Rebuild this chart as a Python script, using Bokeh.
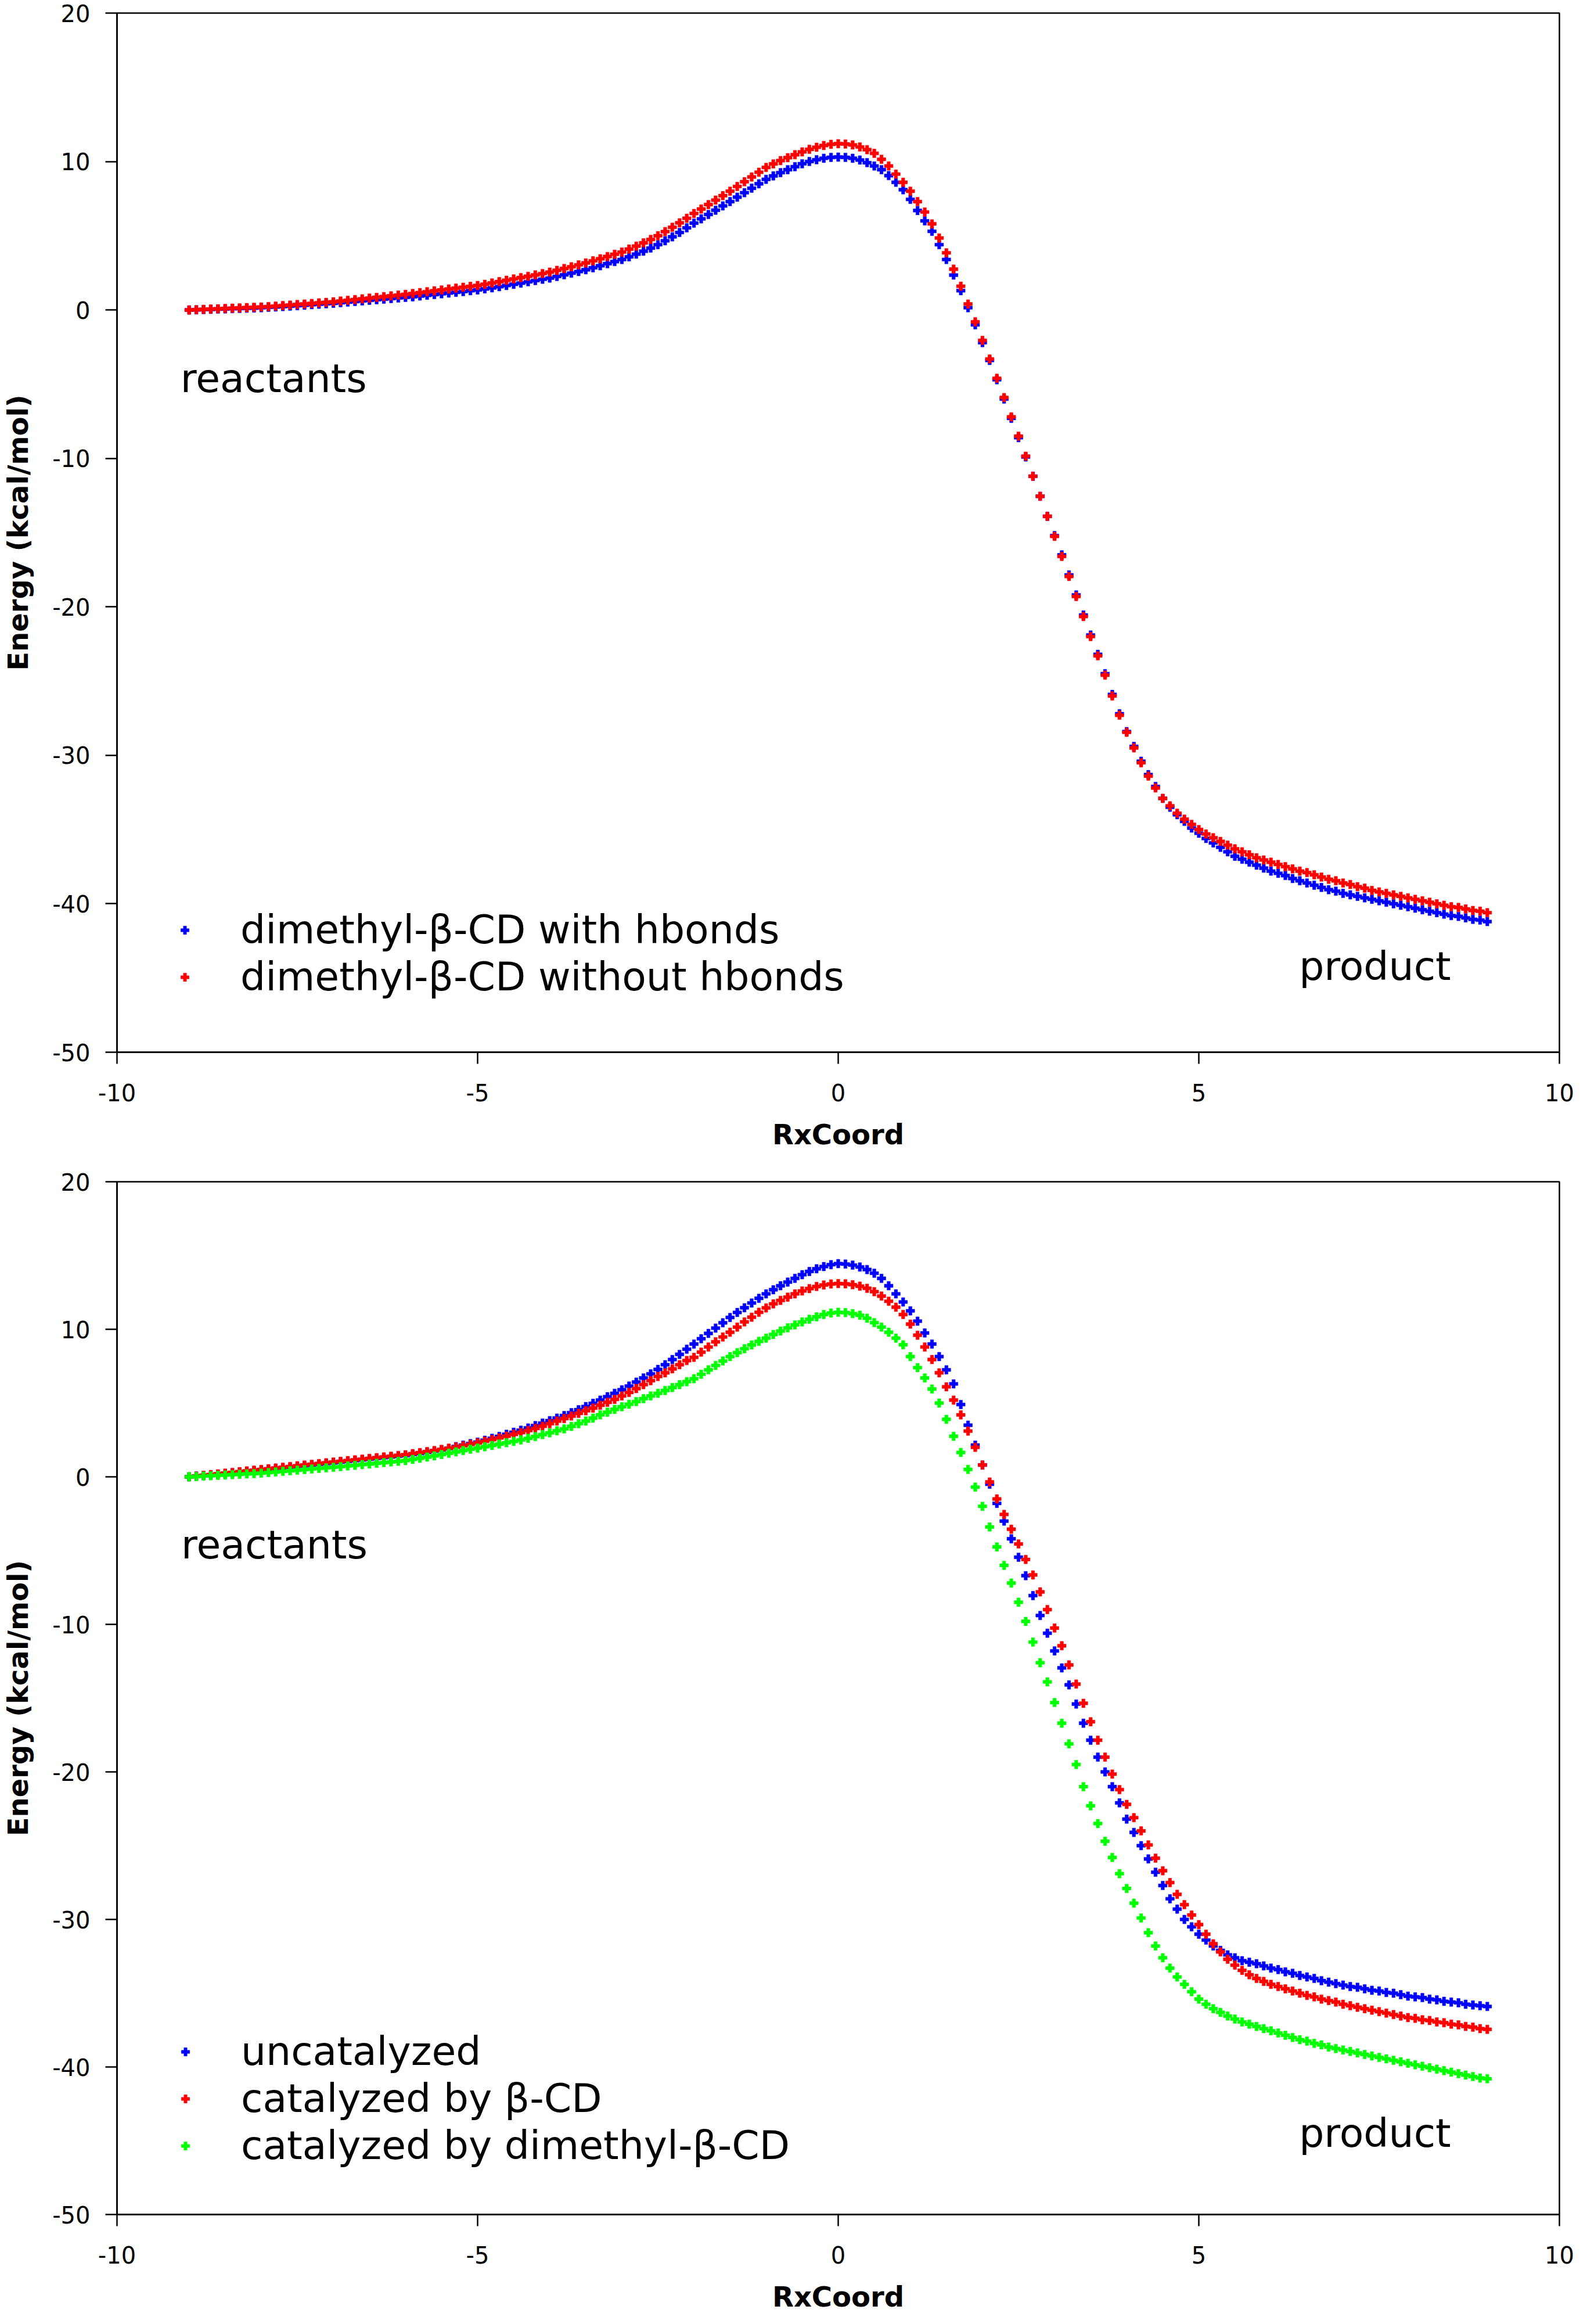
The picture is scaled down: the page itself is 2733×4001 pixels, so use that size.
import numpy as np
from bokeh.plotting import figure
from bokeh.layouts import column
from bokeh.models import Range1d, FixedTicker, Label, Legend, LegendItem, PrintfTickFormatter
from bokeh.embed import file_html
from bokeh.resources import INLINE

# reaction coordinate grid shared by all curves
rx = np.round(np.arange(-9.0, 9.05, 0.1), 1)

# top panel: dimethyl-beta-CD with / without hbonds (kcal/mol)
top_with_hb = [
    0.00, 0.01, 0.03, 0.04, 0.06, 0.07, 0.09, 0.10, 0.12, 0.13,
    0.15, 0.18, 0.20, 0.23, 0.26, 0.29, 0.32, 0.36, 0.39, 0.42,
    0.45, 0.49, 0.53, 0.57, 0.61, 0.65, 0.69, 0.73, 0.77, 0.81,
    0.85, 0.89, 0.94, 0.99, 1.04, 1.09, 1.14, 1.19, 1.24, 1.30,
    1.35, 1.42, 1.49, 1.57, 1.65, 1.73, 1.81, 1.90, 1.98, 2.07,
    2.15, 2.26, 2.37, 2.48, 2.59, 2.71, 2.84, 2.98, 3.12, 3.26,
    3.40, 3.58, 3.76, 3.96, 4.17, 4.40, 4.66, 4.93, 5.22, 5.53,
    5.85, 6.14, 6.43, 6.72, 7.01, 7.30, 7.60, 7.90, 8.20, 8.50,
    8.80, 9.03, 9.25, 9.45, 9.65, 9.85, 10.00, 10.12, 10.22, 10.28,
    10.30, 10.28, 10.22, 10.10, 9.92, 9.70, 9.45, 9.05, 8.60, 8.10,
    7.45, 6.70, 6.00, 5.30, 4.40, 3.40, 2.35, 1.30, 0.15, -1.00,
    -2.20, -3.40, -4.70, -6.00, -7.30, -8.60, -9.90, -11.20, -12.55, -13.90,
    -15.20, -16.50, -17.85, -19.20, -20.55, -21.90, -23.20, -24.50, -25.90, -27.20,
    -28.40, -29.40, -30.40, -31.30, -32.10, -32.90, -33.50, -34.00, -34.45, -34.90,
    -35.25, -35.60, -35.90, -36.20, -36.50, -36.80, -37.00, -37.20, -37.40, -37.60,
    -37.80, -37.95, -38.10, -38.30, -38.45, -38.60, -38.75, -38.90, -39.05, -39.15,
    -39.30, -39.40, -39.50, -39.60, -39.70, -39.80, -39.90, -40.00, -40.10, -40.20,
    -40.30, -40.40, -40.50, -40.60, -40.70, -40.80, -40.85, -40.95, -41.05, -41.10,
    -41.20,
]
top_without_hb = [
    0.00, 0.02, 0.04, 0.06, 0.08, 0.10, 0.12, 0.14, 0.16, 0.18,
    0.20, 0.23, 0.26, 0.30, 0.33, 0.37, 0.40, 0.44, 0.48, 0.51,
    0.55, 0.60, 0.65, 0.70, 0.75, 0.80, 0.85, 0.90, 0.95, 1.00,
    1.05, 1.11, 1.17, 1.23, 1.29, 1.35, 1.41, 1.47, 1.53, 1.59,
    1.65, 1.73, 1.82, 1.91, 2.00, 2.09, 2.18, 2.27, 2.36, 2.45,
    2.55, 2.67, 2.79, 2.91, 3.04, 3.17, 3.31, 3.45, 3.60, 3.75,
    3.90, 4.10, 4.30, 4.52, 4.75, 5.00, 5.28, 5.57, 5.87, 6.18,
    6.50, 6.80, 7.10, 7.40, 7.70, 8.00, 8.32, 8.64, 8.96, 9.28,
    9.60, 9.84, 10.06, 10.26, 10.46, 10.65, 10.82, 10.96, 11.08, 11.16,
    11.20, 11.18, 11.12, 10.98, 10.80, 10.55, 10.15, 9.70, 9.15, 8.60,
    8.00, 7.30, 6.60, 5.80, 4.85, 3.85, 2.75, 1.60, 0.40, -0.80,
    -2.05, -3.30, -4.60, -5.90, -7.20, -8.50, -9.85, -11.20, -12.55, -13.90,
    -15.25, -16.60, -17.95, -19.30, -20.65, -22.00, -23.30, -24.60, -26.00, -27.30,
    -28.45, -29.50, -30.50, -31.40, -32.20, -32.90, -33.40, -33.90, -34.30, -34.65,
    -35.00, -35.30, -35.55, -35.80, -36.05, -36.30, -36.50, -36.70, -36.90, -37.05,
    -37.20, -37.35, -37.50, -37.65, -37.80, -37.90, -38.05, -38.20, -38.35, -38.45,
    -38.60, -38.70, -38.85, -38.95, -39.10, -39.20, -39.30, -39.40, -39.50, -39.60,
    -39.70, -39.80, -39.90, -40.00, -40.10, -40.20, -40.25, -40.35, -40.45, -40.50,
    -40.60,
]

# bottom panel: uncatalyzed / beta-CD / dimethyl-beta-CD (kcal/mol)
bot_uncat = [
    0.00, 0.05, 0.09, 0.14, 0.18, 0.23, 0.27, 0.32, 0.36, 0.41,
    0.45, 0.50, 0.55, 0.60, 0.65, 0.70, 0.75, 0.80, 0.85, 0.90,
    0.95, 1.00, 1.05, 1.10, 1.15, 1.20, 1.25, 1.30, 1.35, 1.40,
    1.45, 1.52, 1.59, 1.67, 1.75, 1.83, 1.92, 2.05, 2.15, 2.25,
    2.35, 2.48, 2.61, 2.74, 2.88, 3.02, 3.16, 3.31, 3.47, 3.64,
    3.81, 3.98, 4.15, 4.35, 4.55, 4.76, 4.98, 5.20, 5.43, 5.66,
    5.90, 6.15, 6.42, 6.70, 6.98, 7.28, 7.60, 7.95, 8.30, 8.65,
    9.00, 9.36, 9.72, 10.08, 10.44, 10.80, 11.14, 11.46, 11.78, 12.10,
    12.40, 12.68, 12.95, 13.20, 13.45, 13.70, 13.92, 14.10, 14.25, 14.38,
    14.45, 14.42, 14.35, 14.22, 14.05, 13.80, 13.45, 12.95, 12.40, 11.85,
    11.25, 10.55, 9.75, 9.00, 8.15, 7.25, 6.30, 4.90, 3.50, 2.15,
    0.80, -0.50, -1.80, -3.00, -4.20, -5.45, -6.70, -8.05, -9.40, -10.60,
    -11.80, -12.95, -14.10, -15.40, -16.70, -17.85, -19.00, -20.00, -21.00, -22.10,
    -23.20, -24.10, -25.00, -25.90, -26.80, -27.70, -28.60, -29.30, -30.00, -30.50,
    -31.00, -31.40, -31.80, -32.10, -32.40, -32.60, -32.80, -32.90, -33.00, -33.15,
    -33.30, -33.40, -33.55, -33.65, -33.80, -33.90, -34.00, -34.15, -34.25, -34.35,
    -34.45, -34.55, -34.60, -34.70, -34.80, -34.85, -34.95, -35.00, -35.10, -35.20,
    -35.25, -35.30, -35.40, -35.45, -35.55, -35.60, -35.65, -35.75, -35.80, -35.85,
    -35.90,
]
bot_beta_cd = [
    0.00, 0.05, 0.10, 0.15, 0.20, 0.25, 0.30, 0.35, 0.40, 0.45,
    0.50, 0.55, 0.60, 0.65, 0.70, 0.75, 0.80, 0.85, 0.90, 0.95,
    1.00, 1.05, 1.10, 1.15, 1.20, 1.25, 1.30, 1.35, 1.40, 1.45,
    1.50, 1.57, 1.64, 1.71, 1.78, 1.86, 1.94, 2.02, 2.11, 2.20,
    2.30, 2.41, 2.52, 2.64, 2.76, 2.88, 3.00, 3.14, 3.28, 3.43,
    3.60, 3.78, 3.95, 4.12, 4.30, 4.48, 4.66, 4.85, 5.05, 5.25,
    5.48, 5.72, 5.98, 6.25, 6.52, 6.80, 7.05, 7.32, 7.60, 7.88,
    8.10, 8.45, 8.80, 9.15, 9.48, 9.80, 10.15, 10.50, 10.82, 11.15,
    11.45, 11.72, 11.96, 12.18, 12.40, 12.60, 12.76, 12.90, 13.00, 13.07,
    13.10, 13.08, 13.02, 12.92, 12.78, 12.55, 12.25, 11.90, 11.50, 11.00,
    10.35, 9.60, 8.80, 7.95, 7.05, 6.10, 5.20, 4.20, 3.10, 2.00,
    0.80, -0.35, -1.50, -2.55, -3.55, -4.55, -5.60, -6.65, -7.80, -9.00,
    -10.25, -11.45, -12.75, -14.05, -15.35, -16.60, -17.85, -19.00, -20.15, -21.20,
    -22.20, -23.10, -24.00, -24.95, -25.85, -26.70, -27.50, -28.30, -29.00, -29.70,
    -30.35, -31.00, -31.65, -32.20, -32.70, -33.10, -33.45, -33.75, -34.00, -34.20,
    -34.40, -34.55, -34.70, -34.85, -35.00, -35.15, -35.25, -35.40, -35.50, -35.60,
    -35.75, -35.85, -35.95, -36.05, -36.15, -36.25, -36.35, -36.45, -36.55, -36.65,
    -36.70, -36.80, -36.85, -36.95, -37.00, -37.10, -37.15, -37.25, -37.30, -37.40,
    -37.45,
]
bot_dimethyl = [
    0.00, 0.02, 0.05, 0.07, 0.10, 0.12, 0.15, 0.17, 0.20, 0.22,
    0.25, 0.29, 0.33, 0.37, 0.41, 0.45, 0.49, 0.53, 0.57, 0.61,
    0.65, 0.69, 0.74, 0.78, 0.83, 0.87, 0.92, 0.96, 1.01, 1.05,
    1.10, 1.18, 1.26, 1.34, 1.42, 1.51, 1.60, 1.69, 1.78, 1.87,
    1.95, 2.04, 2.13, 2.22, 2.31, 2.40, 2.50, 2.61, 2.73, 2.86,
    2.98, 3.12, 3.25, 3.42, 3.60, 3.78, 3.98, 4.20, 4.38, 4.57,
    4.75, 4.92, 5.10, 5.30, 5.48, 5.66, 5.85, 6.05, 6.25, 6.45,
    6.65, 6.95, 7.25, 7.55, 7.85, 8.15, 8.42, 8.68, 8.94, 9.18,
    9.40, 9.65, 9.88, 10.10, 10.30, 10.50, 10.68, 10.85, 11.00, 11.10,
    11.15, 11.13, 11.06, 10.95, 10.75, 10.45, 10.15, 9.80, 9.40, 8.95,
    8.15, 7.40, 6.70, 5.95, 5.00, 3.90, 2.75, 1.65, 0.50, -0.70,
    -2.00, -3.40, -4.75, -6.00, -7.20, -8.50, -9.80, -11.20, -12.60, -13.90,
    -15.30, -16.70, -18.10, -19.50, -21.00, -22.30, -23.50, -24.70, -25.80, -26.90,
    -27.90, -28.90, -29.90, -30.90, -31.80, -32.60, -33.30, -33.90, -34.40, -34.90,
    -35.40, -35.75, -36.05, -36.30, -36.55, -36.75, -36.95, -37.10, -37.25, -37.40,
    -37.55, -37.70, -37.85, -38.00, -38.15, -38.25, -38.40, -38.50, -38.65, -38.75,
    -38.85, -38.95, -39.05, -39.15, -39.25, -39.35, -39.45, -39.55, -39.65, -39.75,
    -39.85, -39.95, -40.05, -40.15, -40.25, -40.35, -40.45, -40.55, -40.65, -40.75,
    -40.80,
]

x_ticks = [-10, -5, 0, 5, 10]
y_ticks = [-50, -40, -30, -20, -10, 0, 10, 20]

FONT = "DejaVu Sans"


def make_panel(series, legend_loc, reactants_at, product_at, height, border_top, border_bottom, border_left):
    p = figure(width=2717, height=height,
               x_range=Range1d(-10, 10), y_range=Range1d(-50, 20),
               x_axis_label="RxCoord", y_axis_label="Energy (kcal/mol)",
               output_backend="svg", toolbar_location=None,
               min_border_left=border_left, min_border_right=32,
               min_border_top=border_top, min_border_bottom=border_bottom)

    p.xaxis.ticker = FixedTicker(ticks=x_ticks)
    p.yaxis.ticker = FixedTicker(ticks=y_ticks)
    p.xaxis.formatter = PrintfTickFormatter(format="%d")
    p.yaxis.formatter = PrintfTickFormatter(format="%d")
    p.grid.visible = False
    p.outline_line_color = "black"
    p.outline_line_width = 2.5
    p.outline_line_alpha = 1.0

    for ax in (p.xaxis[0], p.yaxis[0]):
        ax.major_label_text_font = FONT
        ax.major_label_text_font_size = "40px"
        ax.major_label_text_color = "black"
        ax.axis_label_text_font = FONT
        ax.axis_label_text_font_style = "bold"
        ax.axis_label_text_font_size = "48px"
        ax.axis_label_text_color = "black"
        ax.axis_line_width = 2.5
        ax.major_tick_line_width = 2.5
        ax.major_tick_out = 20
        ax.major_tick_in = 0
        ax.minor_tick_out = 0
        ax.minor_tick_in = 0
    p.xaxis.major_label_standoff = 34
    p.xaxis.axis_label_standoff = 26
    p.yaxis.major_label_standoff = 26
    p.yaxis.axis_label_standoff = 28

    items = []
    for name, ys, color in series:
        r = p.scatter(rx, ys, marker="plus", size=15, fill_color=color,
                      line_color=color, line_width=0.5)
        items.append(LegendItem(label=name, renderers=[r]))

    legend = Legend(items=items, location=legend_loc,
                    border_line_color=None, background_fill_alpha=0,
                    padding=0, margin=0, spacing=2,
                    glyph_width=36, glyph_height=36, label_standoff=78,
                    label_text_font=FONT, label_text_font_size="68px",
                    label_text_color="black")
    p.add_layout(legend)

    for txt, (lx, ly) in (("reactants", reactants_at), ("product", product_at)):
        p.add_layout(Label(x=lx, y=ly, text=txt, text_font=FONT,
                           text_font_size="68px", text_baseline="middle",
                           text_color="black"))
    return p


p1 = make_panel(
    [("dimethyl-β-CD with hbonds", top_with_hb, "#0000ff"),
     ("dimethyl-β-CD without hbonds", top_without_hb, "#ff0000")],
    (99, 90), (-9.12, -4.6), (6.39, -44.2),
    height=2000, border_top=22, border_bottom=189, border_left=196)

p2 = make_panel(
    [("uncatalyzed", bot_uncat, "#0000ff"),
     ("catalyzed by β-CD", bot_beta_cd, "#ff0000"),
     ("catalyzed by dimethyl-β-CD", bot_dimethyl, "#00ff00")],
    (100, 79), (-9.11, -4.6), (6.39, -44.5),
    height=1985, border_top=34, border_bottom=173, border_left=200)

page = column(p1, p2)
open("out.html", "w").write(file_html(page, INLINE))
